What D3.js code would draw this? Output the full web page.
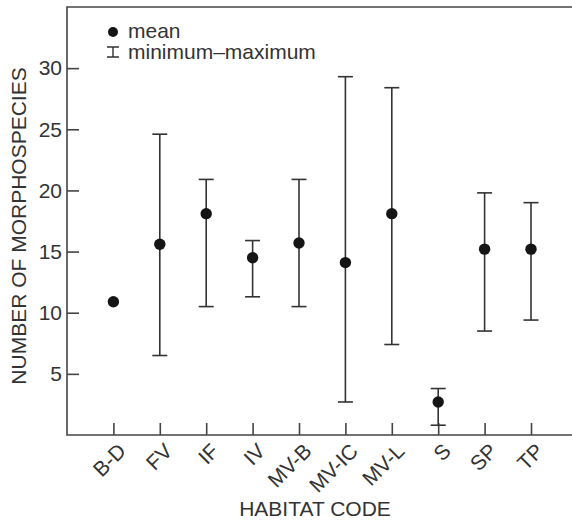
<!DOCTYPE html>
<meta charset="utf-8">
<style>
	body { margin: 0; background: #fff; font-family: "Liberation Sans", Arial, sans-serif; }
	text { fill: #333; }
	.axis path, .axis line { stroke: #444; stroke-width: 1.6; fill: none; }
</style>
<body>
<svg id="chart" width="572" height="523"></svg>
<script src="https://d3js.org/d3.v7.min.js"></script>
<script>
	// values
	var habitats = ["B-D", "FV", "IF", "IV", "MV-B", "MV-IC", "MV-L", "S", "SP", "TP"];
	var means    = [10.9, 15.6, 18.1, 14.5, 15.7, 14.1, 18.1, 2.7, 15.2, 15.2];
	var mins     = [null, 6.5, 10.5, 11.3, 10.5, 2.7, 7.4, 0.8, 8.5, 9.4];
	var maxs     = [null, 24.6, 20.9, 15.9, 20.9, 29.3, 28.4, 3.8, 19.8, 19.0];
	var yTicks   = [5, 10, 15, 20, 25, 30];

	var svg = d3.select("#chart"),
		fs = "21px",
		plotL = 67, plotT = 7, plotR = 577.4, plotB = 435;

	var x = d3.scalePoint()
		.domain(habitats)
		.range([plotL, plotR])
		.padding(1);

	var y = d3.scaleLinear()
		.domain([0, 35])
		.range([plotB, plotT]);

	// frame
	svg.append("path")
		.attr("d", "M" + plotR + "," + plotT + "H" + plotL + "V" + plotB + "H" + plotR)
		.attr("fill", "none")
		.attr("stroke", "#444")
		.attr("stroke-width", 1.6);

	var yAxis = svg.append("g")
		.attr("class", "axis")
		.attr("transform", "translate(" + plotL + ",0)")
		.call(d3.axisLeft(y).tickValues(yTicks).tickSize(-12).tickPadding(5));
	yAxis.select(".domain").remove();
	yAxis.selectAll("text")
		.style("font-size", fs)
		.attr("fill", "#333");

	var xAxis = svg.append("g")
		.attr("class", "axis")
		.attr("transform", "translate(0," + plotB + ")")
		.call(d3.axisBottom(x).tickSize(-12));
	xAxis.select(".domain").remove();
	xAxis.selectAll("text")
		.style("font-size", fs)
		.attr("fill", "#333")
		.attr("text-anchor", "end")
		.attr("y", 0)
		.attr("transform", "translate(3,7) rotate(-45)")
		.attr("dy", "0.7em");

	// whiskers
	var data = habitats.map(function(h, i) {
		return {h: h, mean: means[i], min: mins[i], max: maxs[i]};
	});
	var bars = data.filter(function(d) { return d.min != null; });
	var cap = 7.5;

	var gBars = svg.append("g").attr("stroke", "#333").attr("stroke-width", 1.6);
	gBars.selectAll(".stem").data(bars).enter().append("line")
		.attr("x1", function(d) { return x(d.h); })
		.attr("x2", function(d) { return x(d.h); })
		.attr("y1", function(d) { return y(d.min); })
		.attr("y2", function(d) { return y(d.max); });
	gBars.selectAll(".capT").data(bars).enter().append("line")
		.attr("x1", function(d) { return x(d.h) - cap; })
		.attr("x2", function(d) { return x(d.h) + cap; })
		.attr("y1", function(d) { return y(d.max); })
		.attr("y2", function(d) { return y(d.max); });
	gBars.selectAll(".capB").data(bars).enter().append("line")
		.attr("x1", function(d) { return x(d.h) - cap; })
		.attr("x2", function(d) { return x(d.h) + cap; })
		.attr("y1", function(d) { return y(d.min); })
		.attr("y2", function(d) { return y(d.min); });

	svg.selectAll(".dot").data(data).enter().append("circle")
		.attr("cx", function(d) { return x(d.h); })
		.attr("cy", function(d) { return y(d.mean); })
		.attr("r", 5.7)
		.attr("fill", "#151515");

	// legend
	svg.append("circle").attr("cx", 113).attr("cy", 32).attr("r", 5).attr("fill", "#151515");
	svg.append("path")
		.attr("d", "M107,47H119M113,47V57M107,57H119")
		.attr("stroke", "#333").attr("stroke-width", 1.4).attr("fill", "none");
	svg.append("text").attr("x", 128).attr("y", 38).style("font-size", fs).text("mean");
	svg.append("text").attr("x", 128).attr("y", 59).style("font-size", fs).text("minimum\u2013maximum");

	// axis titles
	svg.append("text")
		.attr("x", 315).attr("y", 516)
		.attr("text-anchor", "middle")
		.style("font-size", fs)
		.text("HABITAT CODE");
	svg.append("text")
		.attr("transform", "translate(26,226) rotate(-90)")
		.attr("text-anchor", "middle")
		.style("font-size", fs)
		.text("NUMBER OF MORPHOSPECIES");
</script>
</body>
